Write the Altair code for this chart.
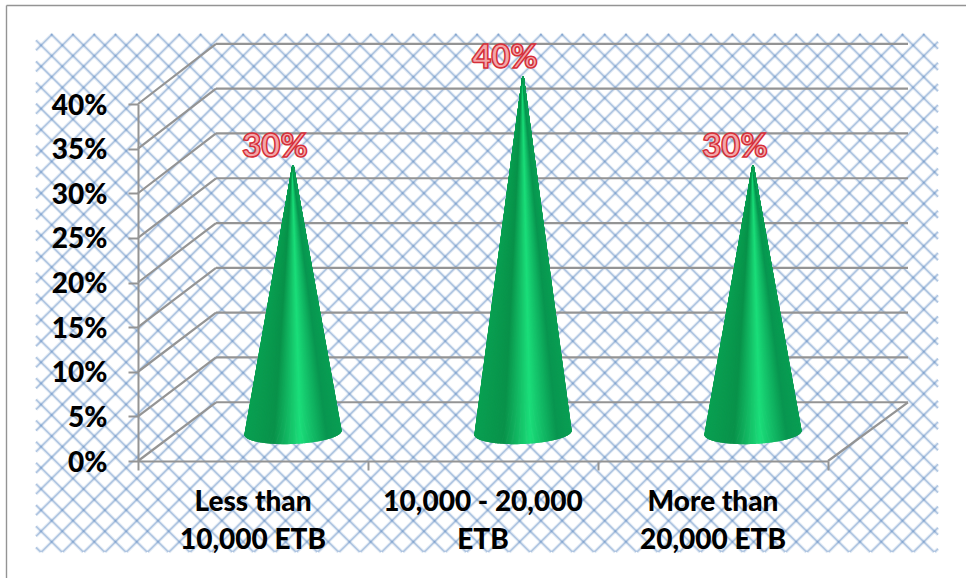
import altair as alt
import numpy as np
import pandas as pd

# Chart values
categories = ["Less than\n10,000 ETB", "10,000 - 20,000\nETB", "More than\n20,000 ETB"]
shares = [0.30, 0.40, 0.30]
tick_values = [0, 0.05, 0.10, 0.15, 0.20, 0.25, 0.30, 0.35, 0.40]
share_labels = ["30%", "40%", "30%"]

# Front plane of the 3D box inside the page
LEFT, TOP, WIDTH, HEIGHT = 138, 104, 690, 357
PAGE_W, PAGE_H = 966, 578
GREY = "#949494"
HATCH = "#4f81bd"
CONE_STOPS = [(0.0, (10, 160, 82)), (0.30, (9, 146, 74)), (0.58, (27, 222, 122)),
              (0.86, (9, 150, 80)), (1.0, (10, 158, 84))]


def dx(px):
    return (px - LEFT) / (WIDTH / 3)


def dy(py):
    return (TOP + HEIGHT - py) / (HEIGHT / 0.4)


x_scale = alt.Scale(domain=[0, 3], range=[0, WIDTH], nice=False, zero=False)
y_scale = alt.Scale(domain=[0, 0.4], range=[HEIGHT, 0], nice=False, zero=False)
x_axis = alt.Axis(
    values=[0, 1, 2, 3], labels=False, grid=False, ticks=True, tickSize=9, tickWidth=2,
    tickColor=GREY, domainColor=GREY, domainWidth=2, zindex=1)
y_axis = alt.Axis(
    values=tick_values, format=".0%", grid=False, tickSize=10, tickWidth=2, tickColor=GREY,
    domainColor=GREY, domainWidth=2, labelFont="Lato", labelFontWeight=900,
    labelFontSize=28, labelColor="black", labelPadding=21, labelOffset=2,
    labelOverlap=False, zindex=1)
X = alt.X("x:Q", scale=x_scale, axis=x_axis, title=None)
Y = alt.Y("y:Q", scale=y_scale, axis=y_axis, title=None)


def segments(rows, **mark):
    df = pd.DataFrame(rows, columns=["x", "y", "x2", "y2"])
    return alt.Chart(df).mark_rule(**mark).encode(
        x=X, y=Y, x2=alt.X2("x2:Q"), y2=alt.Y2("y2:Q"))


# Page frame, open at the right and bottom
frame = segments(
    [(dx(6.5), dy(5.5), dx(PAGE_W), dy(5.5)), (dx(6.5), dy(5.5), dx(6.5), dy(PAGE_H))],
    color=GREY, strokeWidth=1.4)

# Crossed hatch of the chart background, clipped to its rectangle
R_L, R_R, R_T, R_B = 36.0, 938.0, 34.0, 552.0
PERIOD_X, PERIOD_Y, CROSS_X, CROSS_Y = 21.27, 21.13, 51.7, 34.7
hatch_rows = []
for sign in (1, -1):
    slope = sign * PERIOD_Y / PERIOD_X
    for k in range(-80, 120):
        # line through a lattice crossing shifted k cells along x
        x0 = CROSS_X + k * PERIOD_X
        ya, yb = CROSS_Y + slope * (R_L - x0), CROSS_Y + slope * (R_R - x0)
        clipped = []
        for (px, py) in [(R_L, ya), (R_R, yb)]:
            if py < R_T:
                px, py = x0 + (R_T - CROSS_Y) / slope, R_T
            elif py > R_B:
                px, py = x0 + (R_B - CROSS_Y) / slope, R_B
            clipped.append((px, py))
        (p0, q0), (p1, q1) = clipped
        if R_L <= p0 <= R_R and R_L <= p1 <= R_R and abs(p1 - p0) > 0.5:
            hatch_rows.append((dx(p0), dy(q0), dx(p1), dy(q1)))
hatch_soft = segments(hatch_rows, color=HATCH, strokeWidth=3.4, opacity=0.15)
hatch_core = segments(hatch_rows, color=HATCH, strokeWidth=1.5, opacity=0.38)

# Back wall, side wall and floor of the box
DEPTH_X = dx(216)


def back_y(v):
    return v * 1.004 + 0.0658


wall_rows = []
for v in tick_values:
    wall_rows.append((DEPTH_X, back_y(v), dx(908), back_y(v)))
    wall_rows.append((0, v, DEPTH_X, back_y(v)))
wall_rows.append((3, 0, dx(908), back_y(0)))
walls = segments(wall_rows, color=GREY, strokeWidth=2.2)


def cone_colour(f):
    pos = [s[0] for s in CONE_STOPS]
    rgb = [np.interp(f, pos, [s[1][i] for s in CONE_STOPS]) for i in range(3)]
    return "#%02x%02x%02x" % tuple(int(round(c)) for c in rgb)


# Each cone is a fan of thin rays from its tip to the lower half of the base ellipse
BASE_RX, BASE_RY, BASE_TILT = 48.0, 11.0, 2.0
BASE_PY = 433.0
cone_rows = []
for i, share in enumerate(shares):
    cx_px = LEFT + (i + 0.5) * WIDTH / 3 + 40
    tip_y = share + dy(BASE_PY)
    for t in np.linspace(np.pi, 0, 170):
        ox, oy = BASE_RX * np.cos(t), BASE_RY * np.sin(t) - BASE_TILT * np.cos(t)
        cone_rows.append({
            "x": dx(cx_px), "y": tip_y,
            "x2": dx(cx_px + ox), "y2": dy(BASE_PY + oy),
            "c": cone_colour((ox + BASE_RX) / (2 * BASE_RX)),
        })
cones = alt.Chart(pd.DataFrame(cone_rows)).mark_rule(strokeWidth=1.5).encode(
    x=X, y=Y, x2=alt.X2("x2:Q"), y2=alt.Y2("y2:Q"),
    color=alt.Color("c:N", scale=None))

# Value labels above the tips, outlined in red with a pale core
label_df = pd.DataFrame({
    "x": [i + 0.5 + 22 / (WIDTH / 3) for i in range(3)],
    "y": [s + dy(BASE_PY) for s in shares],
    "t": share_labels,
})
labels = alt.Chart(label_df).mark_text(
    font="Lato", fontWeight=900, fontSize=33, baseline="middle", align="center",
    dy=-18, color="#f3a6a9", stroke="#d62f38", strokeWidth=1.5,
).encode(x=X, y=Y, text="t:N")

# Category captions under the floor
cat_df = pd.DataFrame({"x": [i + 0.5 for i in range(3)], "y": [0, 0, 0], "t": categories})
captions = alt.Chart(cat_df).mark_text(
    font="Lato", fontWeight=900, fontSize=28, color="black", align="center",
    baseline="top", lineBreak="\n", lineHeight=38, dy=28,
).encode(x=X, y=Y, text="t:N")

chart = alt.layer(frame, hatch_soft, hatch_core, walls, cones, labels, captions).properties(
    width=WIDTH, height=HEIGHT, background="white",
    padding={"left": LEFT, "top": TOP, "right": PAGE_W - LEFT - WIDTH, "bottom": PAGE_H - TOP - HEIGHT},
    autosize=alt.AutoSizeParams(type="none"),
).configure_view(stroke=None)

chart.save("out.html", embed_options={"renderer": "svg", "actions": False})
